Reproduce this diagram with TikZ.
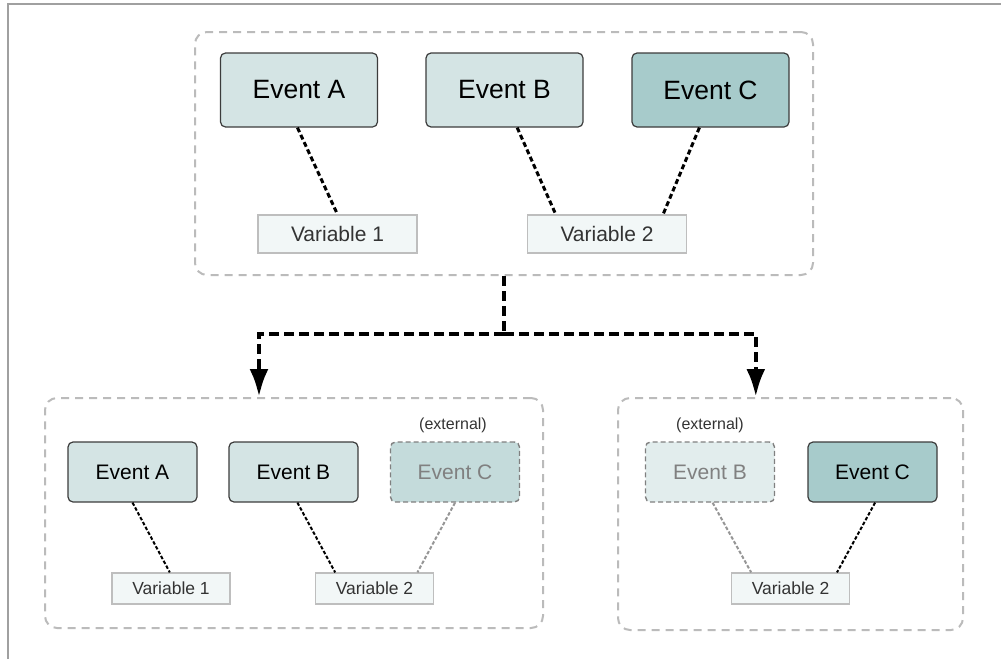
\documentclass[tikz,border=0pt]{standalone}
\usepackage{fontspec}
\setmainfont{Liberation Sans}
\usetikzlibrary{arrows.meta,calc}

\definecolor{evfill}{RGB}{212,228,228}
\definecolor{evdark}{RGB}{167,203,203}
\definecolor{extfillC}{RGB}{196,219,219}
\definecolor{extfillB}{RGB}{226,237,237}
\definecolor{varfill}{RGB}{242,247,247}
\definecolor{varline}{RGB}{190,190,190}
\definecolor{grpline}{RGB}{187,187,187}
\definecolor{boxline}{RGB}{60,60,60}
\definecolor{exttext}{RGB}{128,128,128}
\definecolor{framec}{RGB}{160,160,160}
\definecolor{extlink}{RGB}{150,150,150}

\tikzset{
  grp/.style={draw=grpline, line width=2, dash pattern=on 8 off 6, rounded corners=12, inner sep=0},
  evbox/.style={draw=boxline, line width=1.2, rounded corners=5, inner sep=0, fill=evfill},
  evC/.style={evbox, fill=evdark},
  extbox/.style={draw=exttext, line width=1.4, dash pattern=on 5 off 3, rounded corners=5, inner sep=0, text=exttext},
  varbox/.style={draw=varline, line width=1.2, fill=varfill, inner sep=0, text=black!80},
  bigev/.style={minimum width=157, minimum height=74, font=\fontsize{26.5}{30}\selectfont},
  bigvar/.style={minimum width=159, minimum height=38, font=\fontsize{21}{25}\selectfont},
  smallev/.style={minimum width=129, minimum height=60, font=\fontsize{21}{25}\selectfont},
  smallvar/.style={minimum width=118, minimum height=31, font=\fontsize{17.5}{21}\selectfont},
  extlabel/.style={font=\fontsize{16}{19}\selectfont, text=black!80, inner sep=0},
  linkbig/.style={line width=3, dash pattern=on 5 off 3},
  linksmall/.style={line width=2, dash pattern=on 3.5 off 2},
  linkext/.style={linksmall, draw=extlink},
  flow/.style={line width=4.5, dash pattern=on 10 off 5, -{Latex[length=28,width=19]}}
}

\begin{document}
\begin{tikzpicture}[x=1pt,y=-1pt]
\useasboundingbox (0,0) rectangle (1001,659);

% page frame (top and left edges)
\draw[framec, line width=2] (8,659) -- (8,4) -- (1001,4);

% ---------- upper group ----------
\node[grp, minimum width=618, minimum height=243] (top) at (504,153.5) {};
\node[evbox, bigev] (tA) at (299,90) {Event A};
\node[evbox, bigev] (tB) at (504.5,90) {Event B};
\node[evC, bigev]   (tC) at (710.5,90) {Event C};
\node[varbox, bigvar] (tV1) at (337.5,234) {Variable 1};
\node[varbox, bigvar] (tV2) at (607,234) {Variable 2};

\draw[linkbig] ($(tA.south west)!0.49!(tA.south east)$) -- ($(tV1.north west)!0.5!(tV1.north east)$);
\draw[linkbig] ($(tB.south west)!0.58!(tB.south east)$) -- ($(tV2.north west)!0.18!(tV2.north east)$);
\draw[linkbig] ($(tC.south west)!0.43!(tC.south east)$) -- ($(tV2.north west)!0.85!(tV2.north east)$);

% ---------- lower left group ----------
\node[grp, minimum width=498, minimum height=230] (L) at (294,513) {};
\node[evbox, smallev] (lA) at (132.5,472) {Event A};
\node[evbox, smallev] (lB) at (293.5,472) {Event B};
\node[extbox, smallev, fill=extfillC] (lC) at (455,472) {Event C};
\node[extlabel] (lX) at (453,425) {(external)};
\node[varbox, smallvar] (lV1) at (171,588.5) {Variable 1};
\node[varbox, smallvar] (lV2) at (374.5,588.5) {Variable 2};

\draw[linksmall] ($(lA.south west)!0.5!(lA.south east)$) -- ($(lV1.north west)!0.49!(lV1.north east)$);
\draw[linksmall] ($(lB.south west)!0.53!(lB.south east)$) -- ($(lV2.north west)!0.17!(lV2.north east)$);
\draw[linkext] ($(lC.south west)!0.5!(lC.south east)$) -- ($(lV2.north west)!0.86!(lV2.north east)$);

% ---------- lower right group ----------
\node[grp, minimum width=345, minimum height=232] (R) at (790.5,514) {};
\node[extbox, smallev, fill=extfillB] (rB) at (710,472) {Event B};
\node[extlabel] (rX) at (710,425) {(external)};
\node[evC, smallev] (rC) at (872.5,472) {Event C};
\node[varbox, smallvar] (rV2) at (790.5,588.5) {Variable 2};

\draw[linkext] ($(rB.south west)!0.52!(rB.south east)$) -- ($(rV2.north west)!0.17!(rV2.north east)$);
\draw[linksmall] ($(rC.south west)!0.52!(rC.south east)$) -- ($(rV2.north west)!0.89!(rV2.north east)$);

% ---------- split connector ----------
\path (top.south) ++(0,58) coordinate (split);
\coordinate (lt) at ($(L.north west)!0.43!(L.north east)$);
\coordinate (rt) at ($(R.north west)!0.40!(R.north east)$);
\draw[line width=4.5, dash pattern=on 10 off 5] (top.south) -- (split);
\draw[flow] (split) -| (lt);
\draw[flow] (split) -| (rt);
\end{tikzpicture}
\end{document}
